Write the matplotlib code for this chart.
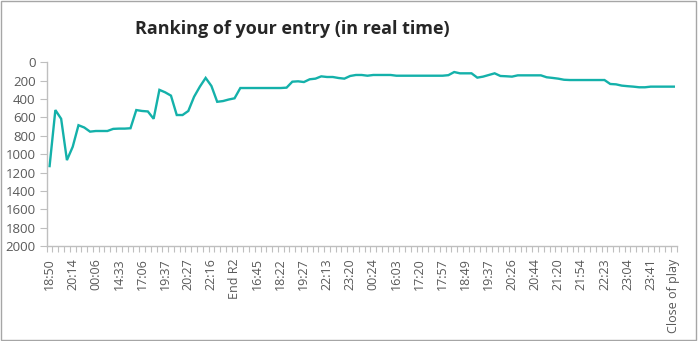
import matplotlib.pyplot as plt
from matplotlib.patches import Rectangle
from matplotlib.ticker import FixedLocator

# rank after each update, one value per snapshot
ranks = [
    1130, 520, 615, 1065, 920, 685, 710, 755, 748, 748,
    748, 725, 722, 722, 718, 520, 530, 535, 615, 300,
    327, 363, 574, 574, 530, 375, 265, 170, 258, 430,
    422, 405, 392, 280, 280, 280, 280, 280, 280, 280,
    280, 276, 211, 207, 215, 185, 178, 153, 160, 160,
    171, 178, 149, 138, 138, 146, 138, 138, 138, 138,
    146, 146, 146, 146, 146, 146, 146, 146, 146, 140,
    106, 120, 120, 120, 167, 156, 138, 120, 149, 152,
    156, 142, 142, 142, 142, 142, 163, 170, 178, 190,
    193, 193, 193, 193, 193, 193, 193, 236, 240, 254,
    260, 265, 272, 272, 265, 265, 265, 265, 265,
]

# every fourth snapshot gets a label
tick_labels = [
    "18:50", "20:14", "00:06", "14:33", "17:06", "19:37", "20:27",
    "22:16", "End R2", "16:45", "18:22", "19:27", "22:13", "23:20",
    "00:24", "16:03", "17:20", "17:57", "18:49", "19:37", "20:26",
    "20:44", "21:20", "21:54", "22:23", "23:04", "23:41", "Close of play",
]
label_step = 4

plt.rcParams["font.family"] = ["Open Sans", "DejaVu Sans"]

fig = plt.figure(figsize=(6.98, 3.41), dpi=100)
ax = fig.add_axes([0.0669, 0.2786, 0.9026, 0.5387])

n = len(ranks)
ax.plot(range(n), ranks, color="#14B1AA", linewidth=1.7, solid_joinstyle="miter")

ax.set_xlim(-0.5, n - 0.5)
ax.set_ylim(2000, 0)
ax.set_yticks(range(0, 2001, 200))

ax.set_xticks(range(0, n, label_step))
ax.set_xticklabels(tick_labels, rotation=90)
ax.xaxis.set_minor_locator(FixedLocator([i - 0.5 for i in range(n + 1)]))

grey = "#BFBFBF"
text_col = "#595959"
for side in ("top", "right"):
    ax.spines[side].set_visible(False)
for side in ("left", "bottom"):
    ax.spines[side].set_color(grey)
    ax.spines[side].set_linewidth(1.0)

ax.tick_params(axis="x", which="major", length=0, pad=9, labelsize=9, labelcolor=text_col)
ax.tick_params(axis="x", which="minor", length=4, color=grey, width=0.8)
ax.tick_params(axis="y", length=5, color=grey, width=0.8, pad=3, labelsize=9.5, labelcolor=text_col)

fig.text(0.419, 0.915, "Ranking of your entry (in real time)", ha="center", va="center",
         fontsize=13, fontweight="bold", color="#262626")

# chart frame
fig.patches.append(Rectangle((0.0015, 0.004), 0.996, 0.993, transform=fig.transFigure,
                             fill=False, edgecolor="#A6A6A6", linewidth=1.0))

fig.savefig("out.png", dpi=100)
